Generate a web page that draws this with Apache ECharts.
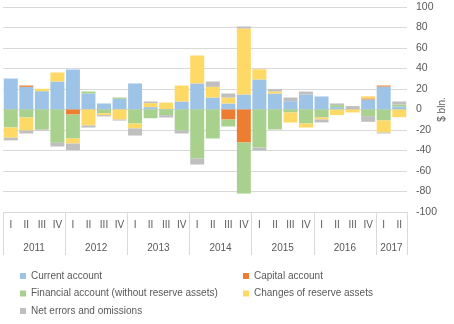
<!DOCTYPE html>
<html>
<head>
<meta charset="utf-8">
<script src="https://cdn.jsdelivr.net/npm/echarts@6/dist/echarts.min.js"></script>
<style>html,body{margin:0;padding:0;background:#fff}#c{width:454px;height:324px}</style>
</head>
<body>
<div id="c"></div>
<script>
var quarters = ['I','II','III','IV','I','II','III','IV','I','II','III','IV','I','II','III','IV','I','II','III','IV','I','II','III','IV','I','II'];
var years = ['2011','2012','2013','2014','2015','2016','2017'];
var yearCenters = [2, 6, 10, 14, 18, 22, 25];
var yearBounds = [0, 4, 8, 12, 16, 20, 24, 26];
var yTicks = [-100, 100, 20];

var currentAccount = [30.2, 22.1, 17.9, 27.3, 39, 15.6, 5.9, 10.4, 25.4, 2.3, 0.5, 7.8, 25.4, 11.7, 5.9, 14.6, 29.3, 15.6, 8.1, 14.6, 12.7, 2.3, 0, 9.8, 22.4, 2.9];
var capitalAccount = [0, 1.3, 0, 0, -4.9, 0, 0, 0, 0, 0, 0, 0, 0, 0, -9.8, -32.2, 0, 0, 0, 0, 0, 0, 0, 1, 1, 0];
var financialAccount = [-17.5, -7.8, -19.5, -32.5, -23.4, 2, -3.6, 1.3, -13.7, -8.5, -5.5, -20.5, -47.8, -28.3, -6.8, -49.8, -37.1, -19.5, -2.9, -13.7, -7.8, 2, 0.4, -6.5, -10.7, 2];
var reserveChanges = [-10, -12.7, 2.3, 8.8, -4.9, -15.6, -1.9, -9.8, -4.8, 3.9, 6.3, 15.6, 27.3, 10.4, 5.8, 64.4, 10, 2, -9.8, -3.9, -1.9, -5.5, -2.9, 2, -11.7, -7.5];
var netErrors = [-2.6, -2.9, -0.9, -3.6, -6.5, -2, -1.3, -1, -6.9, 1.6, -2.3, -2.9, -5.9, 5.2, 3.9, 2, -2.9, 2.2, 3.6, 2.9, -2.9, 1.6, 2.9, -5.5, -1, 2.9];

var names = ['Current account','Capital account','Financial account (without reserve assets)','Changes of reserve assets','Net errors and omissions'];
var colors = ['#9DC3E6','#ED7D31','#A9D18E','#FFD966','#BFBFBF'];
var values = [currentAccount, capitalAccount, financialAccount, reserveChanges, netErrors];

var font = 'Liberation Sans, Arial, sans-serif';
var txt = '#595959';

var chart = echarts.init(document.getElementById('c'), null, {renderer:'canvas'});
chart.setOption({
  animation: false,
  textStyle: {fontFamily: font},
  grid: {left: 3, right: 47, top: 7, bottom: 112, containLabel: false, outerBoundsMode: 'none'},
  legend: [
    {orient: 'vertical', left: 20, top: 270, padding: 0, itemWidth: 6, itemHeight: 6, itemGap: 5.5, icon: 'rect',
     textStyle: {color: txt, fontSize: 10, fontFamily: font, lineHeight: 12},
     data: [names[0], names[2], names[4]]},
    {orient: 'vertical', left: 243, top: 270, padding: 0, itemWidth: 6, itemHeight: 6, itemGap: 5.5, icon: 'rect',
     textStyle: {color: txt, fontSize: 10, fontFamily: font, lineHeight: 12},
     data: [names[1], names[3]]}
  ],
  xAxis: [
    {type: 'category', data: quarters, position: 'bottom',
     axisLine: {show: false}, axisTick: {show: false},
     axisLabel: {color: txt, fontSize: 10, margin: 8, interval: 0, fontFamily: font}},
    {type: 'value', min: 0, max: 26, position: 'bottom',
     axisLine: {show: false}, splitLine: {show: false},
     axisTick: {show: true, customValues: yearBounds, length: 43, lineStyle: {color: '#D9D9D9'}},
     axisLabel: {show: true, customValues: yearCenters, margin: 31, color: txt, fontSize: 10, fontFamily: font,
       formatter: function (v) { var i = yearCenters.indexOf(v); return i >= 0 ? years[i] : ''; }}}
  ],
  yAxis: {type: 'value', position: 'right', min: yTicks[0], max: yTicks[1], interval: yTicks[2],
    name: '$ bln.', nameLocation: 'middle', nameRotate: 90, nameGap: 30, nameMoveOverlap: false,
    nameTextStyle: {color: txt, fontSize: 10, fontFamily: font},
    axisLine: {show: false}, axisTick: {show: false},
    axisLabel: {color: txt, fontSize: 10.5, margin: 9, fontFamily: font},
    splitLine: {lineStyle: {color: '#D9D9D9', width: 1}}},
  series: names.map(function (n, i) {
    return {name: n, type: 'bar', stack: 'bop', data: values[i], xAxisIndex: 0,
      barCategoryGap: '10%', itemStyle: {color: colors[i]}};
  })
});
</script>
</body>
</html>
